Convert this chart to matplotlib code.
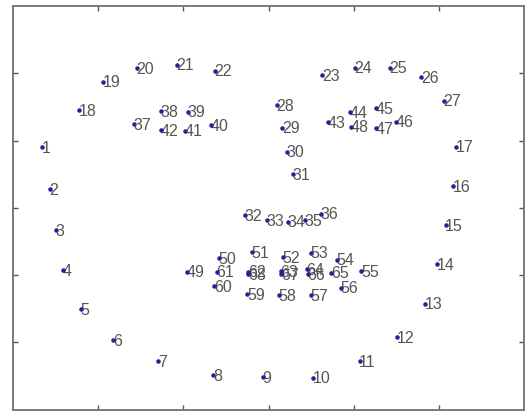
import matplotlib
matplotlib.use("Agg")
import matplotlib.pyplot as plt

# Landmark coordinates (x to the right, y downward, image-like units)
xs = [17.2, 21.7, 25.2, 29.5, 39.9, 58.9, 85.3, 117.6, 146.8, 176.1,
      203.5, 225.6, 241.7, 248.9, 254.0, 258.3, 260.3, 38.7, 53.0, 72.8,
      96.0, 118.6, 181.6, 200.6, 221.1, 239.7, 253.0, 155.0, 158.1, 160.9,
      164.4, 136.2, 149.3, 161.6, 171.4, 180.8, 71.2, 86.9, 102.6, 116.2,
      101.0, 86.9, 184.9, 197.7, 213.3, 225.0, 212.9, 198.6, 102.0, 121.1,
      140.3, 158.3, 174.9, 190.2, 204.5, 192.7, 174.8, 156.2, 137.6, 118.2,
      119.6, 138.1, 157.3, 172.6, 186.9, 173.2, 157.6, 138.1]
ys = [105.1, 136.3, 166.8, 196.5, 225.5, 248.6, 263.9, 274.6, 275.8, 276.4,
      263.9, 246.1, 221.3, 192.0, 163.0, 133.8, 104.6, 77.3, 56.3, 46.1,
      43.5, 48.1, 51.3, 45.9, 45.9, 53.0, 70.4, 73.6, 90.5, 108.3,
      125.1, 155.4, 159.1, 160.4, 159.1, 154.3, 87.7, 78.1, 78.6, 88.5,
      92.7, 92.2, 86.5, 79.0, 76.1, 86.0, 90.9, 89.7, 197.5, 187.4,
      182.9, 186.6, 183.6, 188.6, 197.0, 209.4, 215.1, 215.1, 214.3, 208.2,
      197.5, 197.4, 197.0, 195.5, 198.3, 199.6, 199.3, 199.6]
labels = [str(i + 1) for i in range(len(xs))]

xlim = (0, 300)
ylim = (300, 0)
xticks = [50, 100, 150, 200, 250]
yticks = [50, 100, 150, 200, 250]

fig = plt.figure(figsize=(5.26, 4.12), dpi=100)
ax = fig.add_axes([13 / 526, 2.5 / 412, 511 / 526, 403.5 / 412])

ax.plot(xs, ys, linestyle="none", marker=".", markersize=4.5,
        color="#22229a", zorder=3)
for x, y, lab in zip(xs, ys, labels):
    ax.annotate(lab, (x, y), xytext=(-0.3, -4.0), textcoords="offset points",
                ha="left", va="baseline", fontsize=11.5,
                family=["Liberation Sans", "DejaVu Sans"], color="#555555",
                zorder=2)

ax.set_xlim(*xlim)
ax.set_ylim(*ylim)
ax.set_xticks(xticks)
ax.set_yticks(yticks)
ax.set_xticklabels([])
ax.set_yticklabels([])
ax.tick_params(direction="in", length=3.5, width=1.0, color="#555555",
               top=True, right=True, bottom=True, left=True)
for s in ax.spines.values():
    s.set_color("#7a7a7a")
    s.set_linewidth(1.4)

fig.savefig("out.png", dpi=100)
